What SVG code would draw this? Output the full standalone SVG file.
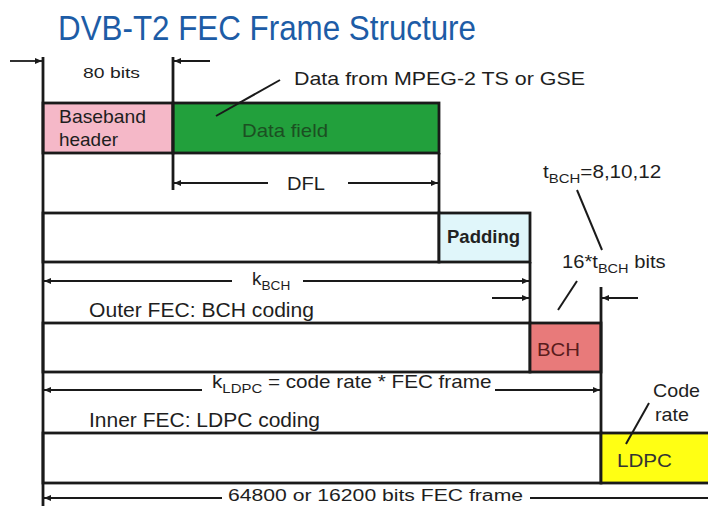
<svg xmlns="http://www.w3.org/2000/svg" width="708" height="506" viewBox="0 0 708 506">
<style>
  .t { font-family: "Liberation Sans", Arial, sans-serif; fill: #1e1e1e; font-size: 18.5px; }
  .box { stroke: #1a1a1a; stroke-width: 2.8; }
  .edge { stroke: #1a1a1a; stroke-width: 2.8; fill: none; }
  .dim { stroke: #1a1a1a; stroke-width: 1.8; fill: none; }
  .lead { stroke: #1a1a1a; stroke-width: 2; fill: none; }
</style>
<defs>
  <marker id="ah" markerWidth="8" markerHeight="6" refX="7" refY="3" orient="auto" markerUnits="userSpaceOnUse">
    <path d="M0,0 L7,3 L0,6 z" fill="#1a1a1a"/>
  </marker>
</defs>
<rect width="708" height="506" fill="#ffffff"/>

<text id="title" x="58" y="40" class="t" style="font-size:35px;fill:#1d5ca6" textLength="418" lengthAdjust="spacingAndGlyphs">DVB-T2 FEC Frame Structure</text>

<g id="baseband-header">
  <rect x="43" y="103" width="130" height="50" fill="#f5b8c8" class="box"/>
  <text x="59" y="123" class="t" style="font-size:19px" textLength="87" lengthAdjust="spacingAndGlyphs">Baseband</text>
  <text x="59" y="146" class="t" style="font-size:19px" textLength="59" lengthAdjust="spacingAndGlyphs">header</text>
</g>
<g id="data-field">
  <rect x="173" y="103" width="266" height="50" fill="#22a03c" class="box"/>
  <text x="242" y="137" class="t" style="font-size:19px;fill:#1c4f22" textLength="86" lengthAdjust="spacingAndGlyphs">Data field</text>
</g>
<g id="row-padding">
  <rect x="43" y="213" width="396" height="49" fill="#ffffff" class="box"/>
</g>
<g id="padding">
  <rect x="439" y="213" width="91" height="49" fill="#e0f6fa" class="box"/>
  <text x="447" y="243" class="t" style="font-weight:bold;fill:#222" textLength="73" lengthAdjust="spacingAndGlyphs">Padding</text>
</g>
<g id="row-bch">
  <rect x="43" y="323" width="487" height="49" fill="#ffffff" class="box"/>
</g>
<g id="bch">
  <rect x="530" y="323" width="71" height="49" fill="#e87a7a" class="box"/>
  <text x="537" y="356" class="t" style="font-size:19px;fill:#5a1c1c" textLength="43" lengthAdjust="spacingAndGlyphs">BCH</text>
</g>
<g id="row-ldpc">
  <rect x="43" y="433" width="558" height="50" fill="#ffffff" class="box"/>
</g>
<g id="ldpc">
  <rect x="601" y="433" width="110" height="50" fill="#ffff14" class="box"/>
  <text x="617" y="467" class="t" style="font-size:19px;fill:#333" textLength="55" lengthAdjust="spacingAndGlyphs">LDPC</text>
</g>

<g id="connectors">
  <line x1="43" y1="57" x2="43" y2="506" class="edge"/>
  <line x1="173" y1="57" x2="173" y2="190" class="edge"/>
  <line x1="439" y1="153" x2="439" y2="213" class="edge"/>
  <line x1="530" y1="262" x2="530" y2="323" class="edge"/>
  <line x1="601" y1="287" x2="601" y2="433" class="edge"/>
  <line x1="10" y1="61" x2="42" y2="61" class="dim" marker-end="url(#ah)"/>
  <line x1="210" y1="61" x2="174" y2="61" class="dim" marker-end="url(#ah)"/>
  <line x1="268" y1="183" x2="174" y2="183" class="dim" marker-end="url(#ah)"/>
  <line x1="348" y1="183" x2="438" y2="183" class="dim" marker-end="url(#ah)"/>
  <line x1="232" y1="281" x2="44" y2="281" class="dim" marker-end="url(#ah)"/>
  <line x1="303" y1="281" x2="529" y2="281" class="dim" marker-end="url(#ah)"/>
  <line x1="492" y1="298" x2="529" y2="298" class="dim" marker-end="url(#ah)"/>
  <line x1="638" y1="298" x2="602" y2="298" class="dim" marker-end="url(#ah)"/>
  <line x1="202" y1="390" x2="44" y2="390" class="dim" marker-end="url(#ah)"/>
  <line x1="495" y1="390" x2="600" y2="390" class="dim" marker-end="url(#ah)"/>
  <line x1="222" y1="498" x2="44" y2="498" class="dim" marker-end="url(#ah)"/>
  <line x1="530" y1="498" x2="708" y2="498" class="dim"/>
  <line x1="216" y1="116" x2="280" y2="80" class="lead"/>
  <line x1="577" y1="190" x2="602" y2="250" class="lead"/>
  <line x1="558" y1="310" x2="577" y2="281" class="lead"/>
  <line x1="626" y1="444" x2="649" y2="403" class="lead"/>
</g>

<g id="labels">
  <text x="83" y="78" class="t" style="font-size:15px" textLength="57" lengthAdjust="spacingAndGlyphs">80 bits</text>
  <text x="294" y="85" class="t" style="font-size:19px" textLength="291" lengthAdjust="spacingAndGlyphs">Data from MPEG-2 TS or GSE</text>
  <text x="287" y="190" class="t" style="font-size:19px" textLength="38" lengthAdjust="spacingAndGlyphs">DFL</text>
  <text class="t" style="font-size:18px" transform="translate(543,178) scale(1.15,1)">t<tspan style="font-size:13px" dy="5">BCH</tspan><tspan dy="-5">=8,10,12</tspan></text>
  <text class="t" style="font-size:18px" transform="translate(562,268) scale(1.12,1)">16*t<tspan style="font-size:13px" dy="5">BCH</tspan><tspan dy="-5"> bits</tspan></text>
  <text class="t" style="font-size:18px" transform="translate(252,285) scale(1.05,1)">k<tspan style="font-size:13px" dy="5">BCH</tspan></text>
  <text x="89" y="317" class="t" style="font-size:19.5px" textLength="225" lengthAdjust="spacingAndGlyphs">Outer FEC: BCH coding</text>
  <text class="t" style="font-size:18px" transform="translate(212,388) scale(1.15,1)">k<tspan style="font-size:13px" dy="5">LDPC</tspan><tspan dy="-5"> = code rate * FEC frame</tspan></text>
  <text x="89" y="427" class="t" style="font-size:19.5px" textLength="231" lengthAdjust="spacingAndGlyphs">Inner FEC: LDPC coding</text>
  <text x="653" y="397" class="t" style="font-size:19px" textLength="47" lengthAdjust="spacingAndGlyphs">Code</text>
  <text x="655" y="421" class="t" style="font-size:19px" textLength="34" lengthAdjust="spacingAndGlyphs">rate</text>
  <text x="228" y="501" class="t" style="font-size:16px" textLength="295" lengthAdjust="spacingAndGlyphs">64800 or 16200 bits FEC frame</text>
</g>
</svg>
